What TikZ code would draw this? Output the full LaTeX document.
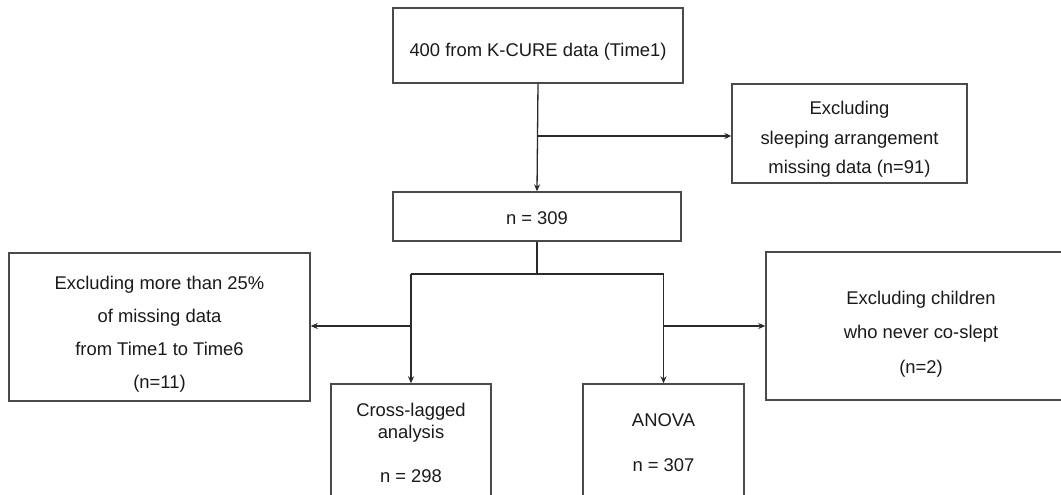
\documentclass[tikz,border=0pt]{standalone}
\usepackage{fontspec}
\setmainfont{Liberation Sans}
\usetikzlibrary{arrows.meta,calc}
\definecolor{boxline}{HTML}{4A4A4A}
\definecolor{conn}{HTML}{2A2A2A}
\definecolor{txt}{HTML}{1A1A1A}
\newcommand{\dn}[1]{\rule{0pt}{#1}}
\tikzset{
  flowbox/.style={draw=boxline, line width=1.4pt, rectangle, align=center, inner sep=0pt,
    text=txt, font=\fontsize{18.4}{33}\selectfont},
  conline/.style={draw=conn, line width=1.3pt},
  conarrow/.style={conline, -{Stealth[length=7pt,width=6pt]}}
}
\begin{document}
\begin{tikzpicture}[x=1pt,y=-1pt]
\useasboundingbox (0,0) rectangle (1061,495);
\clip (0,0) rectangle (1061,495);
\fill[white] (0,0) rectangle (1061,495);
% boxes
\node[flowbox, minimum width=290pt, minimum height=75pt] (top) at (538,45.5) {\dn{26pt}400 from K-CURE data (Time1)};
\node[flowbox, minimum width=235pt, minimum height=99pt, font=\fontsize{18.4}{29.5}\selectfont] (excl1) at (849.5,133.5) {\dn{25.5pt}Excluding\\sleeping arrangement\\missing data (n=91)};
\node[flowbox, minimum width=288pt, minimum height=49pt] (n309) at (537,216.5) {\dn{17pt}n = 309};
\node[flowbox, minimum width=301pt, minimum height=148pt] (excl2) at (159.5,327) {\dn{27pt}Excluding more than 25\%\\of missing data\\from Time1 to Time6\\(n=11)};
\node[flowbox, minimum width=310pt, minimum height=148pt, font=\fontsize{18.4}{34.5}\selectfont] (excl3) at (921,326) {\dn{29pt}Excluding children\\who never co-slept\\(n=2)};
\node[flowbox, minimum width=160pt, minimum height=118pt, font=\fontsize{18.4}{22}\selectfont] (cross) at (411,443) {Cross-lagged\\analysis\\[22pt]n = 298};
\node[flowbox, minimum width=161pt, minimum height=118pt, font=\fontsize{18.4}{45}\selectfont] (anova) at (663.5,443) {ANOVA\\n = 307};
% connectors
\coordinate (b1) at (538,136);
\draw[conarrow] (top.south) -- (n309.north);
\draw[conarrow] (b1) -- (b1 -| excl1.west);
\coordinate (j) at (537,274);
\coordinate (jl) at (411,274);
\coordinate (jr) at (663.5,274);
\coordinate (ml) at (411,326);
\coordinate (mr) at (663.5,326);
\draw[conline] (n309.south) -- (j);
\draw[conline] (jl) -- (jr);
\draw[conarrow] (jl) -- (cross.north);
\draw[conarrow] (jr) -- (anova.north);
\draw[conarrow] (ml) -- (ml -| excl2.east);
\draw[conarrow] (mr) -- (mr -| excl3.west);
\end{tikzpicture}
\end{document}
